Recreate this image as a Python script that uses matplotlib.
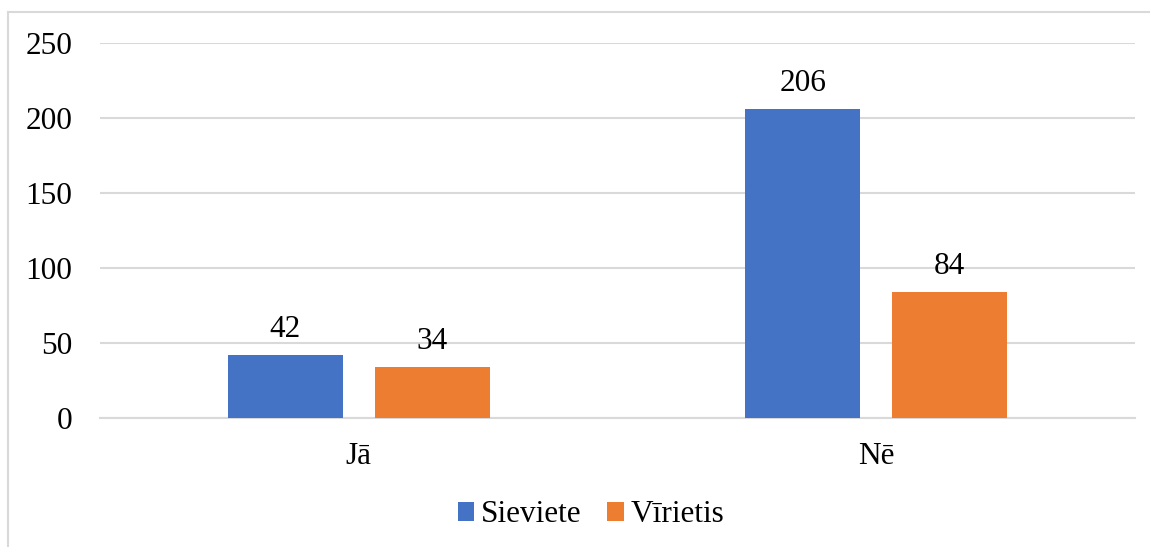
import matplotlib
matplotlib.use("Agg")
import matplotlib.pyplot as plt
from matplotlib.lines import Line2D
import numpy as np

categories = ["Jā", "Nē"]
series_names = ["Sieviete", "Vīrietis"]
sieviete = [42, 206]
virietis = [34, 84]
yticks = [0, 50, 100, 150, 200, 250]

colors = ["#4472C4", "#ED7D31"]
grid_c = "#D9D9D9"
FS = 22.5

plt.rcParams['font.family'] = ['Liberation Serif', 'DejaVu Serif']

W, H = 1150, 547
fig = plt.figure(figsize=(W / 100, H / 100), dpi=100)
ax = fig.add_axes([100 / W, 1 - 418 / H, (1135 - 100) / W, (418 - 43) / H])

x = np.arange(len(categories))
width = 0.222
off = 0.142
for vals, c, name, o in [(sieviete, colors[0], series_names[0], -off),
                         (virietis, colors[1], series_names[1], off)]:
    bars = ax.bar(x + o, vals, width, color=c, label=name, zorder=3)
    for b, v in zip(bars, vals):
        ax.annotate(str(v), (b.get_x() + b.get_width() / 2, v),
                    xytext=(0, 8), textcoords="offset points",
                    ha="center", va="bottom", fontsize=FS, color="#000000")

ax.set_xlim(-0.5, 1.5)
ax.set_ylim(0, 250)
ax.set_yticks(yticks)
ax.set_yticklabels([str(t) for t in yticks], fontsize=FS)
ax.set_xticks(x)
ax.set_xticklabels(categories, fontsize=FS)
ax.tick_params(axis="y", length=0, pad=20)
ax.tick_params(axis="x", length=0, pad=17)
ax.grid(axis="y", color=grid_c, linewidth=1.5, zorder=0)
for s in ["top", "right", "left"]:
    ax.spines[s].set_visible(False)
ax.spines["bottom"].set_color(grid_c)
ax.spines["bottom"].set_linewidth(1.5)

leg = fig.legend(loc="center", bbox_to_anchor=(591 / W, 1 - 515 / H), ncol=2,
                 frameon=False, fontsize=FS, handlelength=0.52, handleheight=0.52,
                 handletextpad=0.22, columnspacing=0.83)

# outer chart border (cropped)
fig.add_artist(Line2D([7.5 / W, 7.5 / W], [0, 1 - 12 / H], transform=fig.transFigure,
                      color=grid_c, linewidth=1.5))
fig.add_artist(Line2D([7.5 / W, 1], [1 - 12 / H, 1 - 12 / H], transform=fig.transFigure,
                      color=grid_c, linewidth=1.5))

fig.savefig("out.png", dpi=100)
